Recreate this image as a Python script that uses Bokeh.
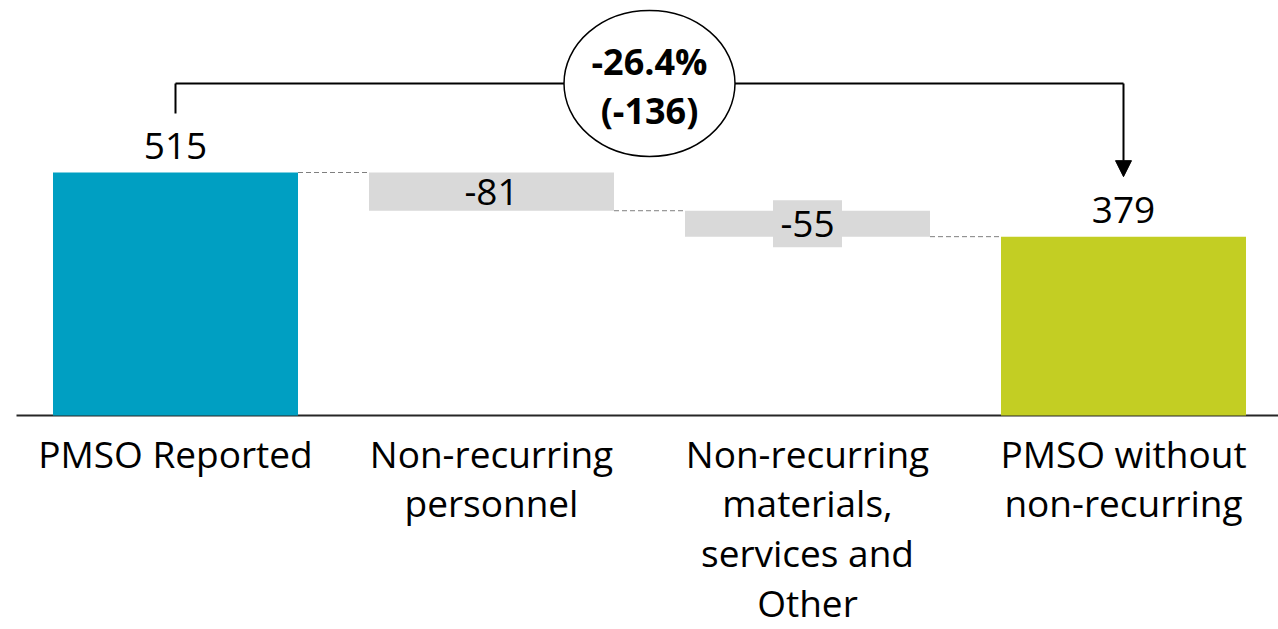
from bokeh.plotting import figure
from bokeh.models import Range1d, Arrow, NormalHead
from bokeh.core.properties import value
from bokeh.embed import file_html
from bokeh.resources import INLINE

# ---------------- data ----------------
categories = ["PMSO Reported", "Non-recurring personnel",
              "Non-recurring materials, services and Other",
              "PMSO without non-recurring"]
tick_labels = ["PMSO Reported", "Non-recurring\npersonnel",
               "Non-recurring\nmaterials,\nservices and\nOther",
               "PMSO without\nnon-recurring"]
values = [515, -81, -55, 379]
kinds = ["total", "delta", "delta", "total"]

# ---------------- styling ----------------
TEAL = "#009FC2"
GREEN = "#C3CE23"
GREY = "#D9D9D9"
FONT = "Open Sans"
W, H = 1278, 629
SPACING = 316.0          # px per category
PXU = 243.0 / 515.0      # px per value unit
BASE_PX = 415.0          # y pixel of zero line
FIRST_PX = 175.0         # x pixel of first category centre

x0 = -FIRST_PX / SPACING
x1 = x0 + W / SPACING
y_top = BASE_PX / PXU
y_bot = -(H - BASE_PX) / PXU

p = figure(width=W, height=H, x_range=Range1d(x0, x1), y_range=Range1d(y_bot, y_top),
           x_axis_type=None, y_axis_type=None, toolbar_location=None,
           output_backend="svg", min_border=0)
p.outline_line_color = None
p.background_fill_color = "white"
p.border_fill_color = "white"
p.grid.visible = False

# waterfall geometry
idx = list(range(len(values)))
bottoms, tops = [], []
running = 0
for v, k in zip(values, kinds):
    if k == "total":
        bottoms.append(0)
        tops.append(v)
        running = v
    else:
        bottoms.append(running + v)
        tops.append(running)
        running += v
colors = [TEAL, GREY, GREY, GREEN]
BAR_W = 245.0 / SPACING

# baseline
p.segment(x0=[x0 + 16 / SPACING], y0=[0], x1=[x1], y1=[0], line_color="#262626", line_width=2)

# connectors
levels = []
run = 0
for v, k in zip(values, kinds):
    run = v if k == "total" else run + v
    levels.append(run)
p.segment(x0=[i + BAR_W / 2 for i in idx[:-1]], y0=levels[:-1],
          x1=[i + 1 - BAR_W / 2 for i in idx[:-1]], y1=levels[:-1],
          line_color="#7F7F7F", line_width=1, line_dash="5 3")

# bars
p.vbar(x=idx, bottom=bottoms, top=tops, width=BAR_W, fill_color=colors, line_color=None)

# value labels for totals
tot_i = [i for i in idx if kinds[i] == "total"]
p.text(x=tot_i, y=[tops[i] for i in tot_i], text=[str(values[i]) for i in tot_i],
       text_font=value(FONT), text_font_size="37px", text_color="black",
       text_align="center", text_baseline="middle", y_offset=-27)

# delta labels, centred in bar, with a grey label box when the bar is thin
del_i = [i for i in idx if kinds[i] == "delta"]
mids = [(bottoms[i] + tops[i]) / 2 for i in del_i]
box_i = [i for i in del_i if abs(values[i]) * PXU < 30]
p.rect(x=box_i, y=[(bottoms[i] + tops[i]) / 2 for i in box_i], width=69, height=47,
       width_units="screen", height_units="screen", fill_color=GREY, line_color=None)
p.text(x=del_i, y=mids, text=[str(values[i]) for i in del_i],
       text_font=value(FONT), text_font_size="37px", text_color="black",
       text_align="center", text_baseline="middle")

# category labels
p.text(x=idx, y=[0] * len(idx), text=tick_labels, text_font=value(FONT),
       text_font_size="37px", text_color="black", text_align="center",
       text_baseline="top", text_line_height=0.98, y_offset=12)

# bracket with change bubble
start, end = values[0], values[-1]
change = end - start
pct = change / start * 100
bracket_y = start + (172 - 83) / PXU
p.segment(x0=[0, 0], y0=[start + (172 - 113) / PXU, bracket_y],
          x1=[0, 3], y1=[bracket_y, bracket_y], line_color="black", line_width=2)
p.add_layout(Arrow(end=NormalHead(size=16, fill_color="black", line_color="black"),
                   x_start=3, y_start=bracket_y, x_end=3, y_end=end + (237 - 177) / PXU,
                   line_color="black", line_width=2))
p.ellipse(x=[1.5], y=[bracket_y], width=171, height=146, width_units="screen",
          height_units="screen", fill_color="white", line_color="black", line_width=1.5)
p.text(x=[1.5, 1.5], y=[bracket_y, bracket_y],
       text=[f"{pct:.1f}%", f"({change})"], text_font=value(FONT), text_font_style="bold",
       text_font_size="36px", text_color="black", text_align="center",
       text_baseline="middle", y_offset=[-22, 27])

open("out.html", "w").write(file_html(p, INLINE))
